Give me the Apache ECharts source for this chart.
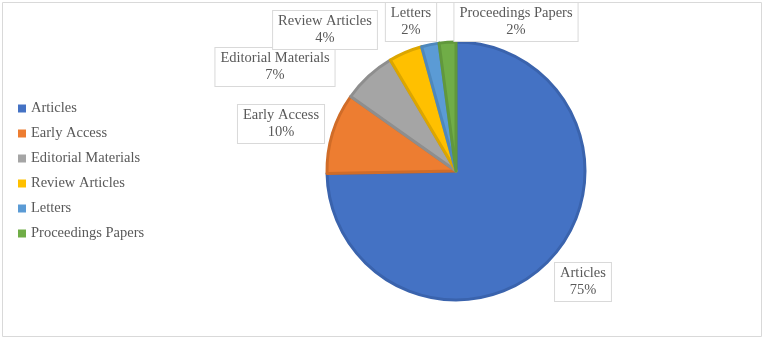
<!DOCTYPE html>
<html>
<head>
<meta charset="utf-8">
<script src="https://cdn.jsdelivr.net/npm/echarts@6/dist/echarts.min.js"></script>
<style>
  html, body { margin: 0; padding: 0; background: #fff; }
  #chart { width: 764px; height: 340px; }
</style>
</head>
<body>
<div id="chart"></div>
<script>
var categories = ['Articles', 'Early Access', 'Editorial Materials', 'Review Articles', 'Letters', 'Proceedings Papers'];
var values = [74.7, 10.1, 6.7, 4.2, 2.2, 2.1];
var colors = ['#4472C4', '#ED7D31', '#A5A5A5', '#FFC000', '#5B9BD5', '#70AD47'];
var edgeColors = ['#3A63AD', '#D06C28', '#8E8E8E', '#DCA600', '#4E88BC', '#61983C'];

// where each label box sits (centre of box)
var labelPos = [[583, 282], [281, 124], [275, 67], [325, 30], [411, 22], [516, 22]];

var pieData = categories.map(function (name, i) {
  return {
    name: name,
    value: values[i],
    itemStyle: { color: colors[i], borderColor: edgeColors[i] }
  };
});

var option = {
  animation: false,
  textStyle: { fontFamily: 'Liberation Serif' },
  graphic: [{
    type: 'rect',
    shape: { x: 2.5, y: 2.5, width: 759, height: 334 },
    style: { fill: 'none', stroke: '#d9d9d9', lineWidth: 1 },
    silent: true
  }],
  legend: {
    orient: 'vertical',
    left: 13,
    top: 96,
    icon: 'rect',
    itemWidth: 8,
    itemHeight: 8,
    itemGap: 10,
    data: categories,
    itemStyle: { borderWidth: 0 },
    textStyle: {
      fontFamily: 'Liberation Serif',
      fontSize: 14.5,
      color: '#595959'
    }
  },
  series: [{
    type: 'pie',
    center: [456, 171],
    radius: 129,
    startAngle: 90,
    clockwise: true,
    percentPrecision: 0,
    data: pieData,
    itemStyle: { borderWidth: 3 },
    label: {
      show: true,
      formatter: function (p) {
        return p.name + '\n' + Math.round(p.percent) + '%';
      },
      fontFamily: 'Liberation Serif',
      fontSize: 14.5,
      lineHeight: 17,
      color: '#595959',
      backgroundColor: '#fff',
      borderColor: '#d9d9d9',
      borderWidth: 1,
      padding: [2, 5, 2, 5],
      align: 'center'
    },
    labelLine: { show: false },
    labelLayout: function (params) {
      var p = labelPos[params.dataIndex];
      return { x: p[0], y: p[1], align: 'center', verticalAlign: 'middle' };
    },
    emphasis: { disabled: true }
  }]
};

var myChart = echarts.init(document.getElementById('chart'));
myChart.setOption(option);
window.addEventListener('resize', function () {
  myChart.resize();
});
</script>
</body>
</html>
